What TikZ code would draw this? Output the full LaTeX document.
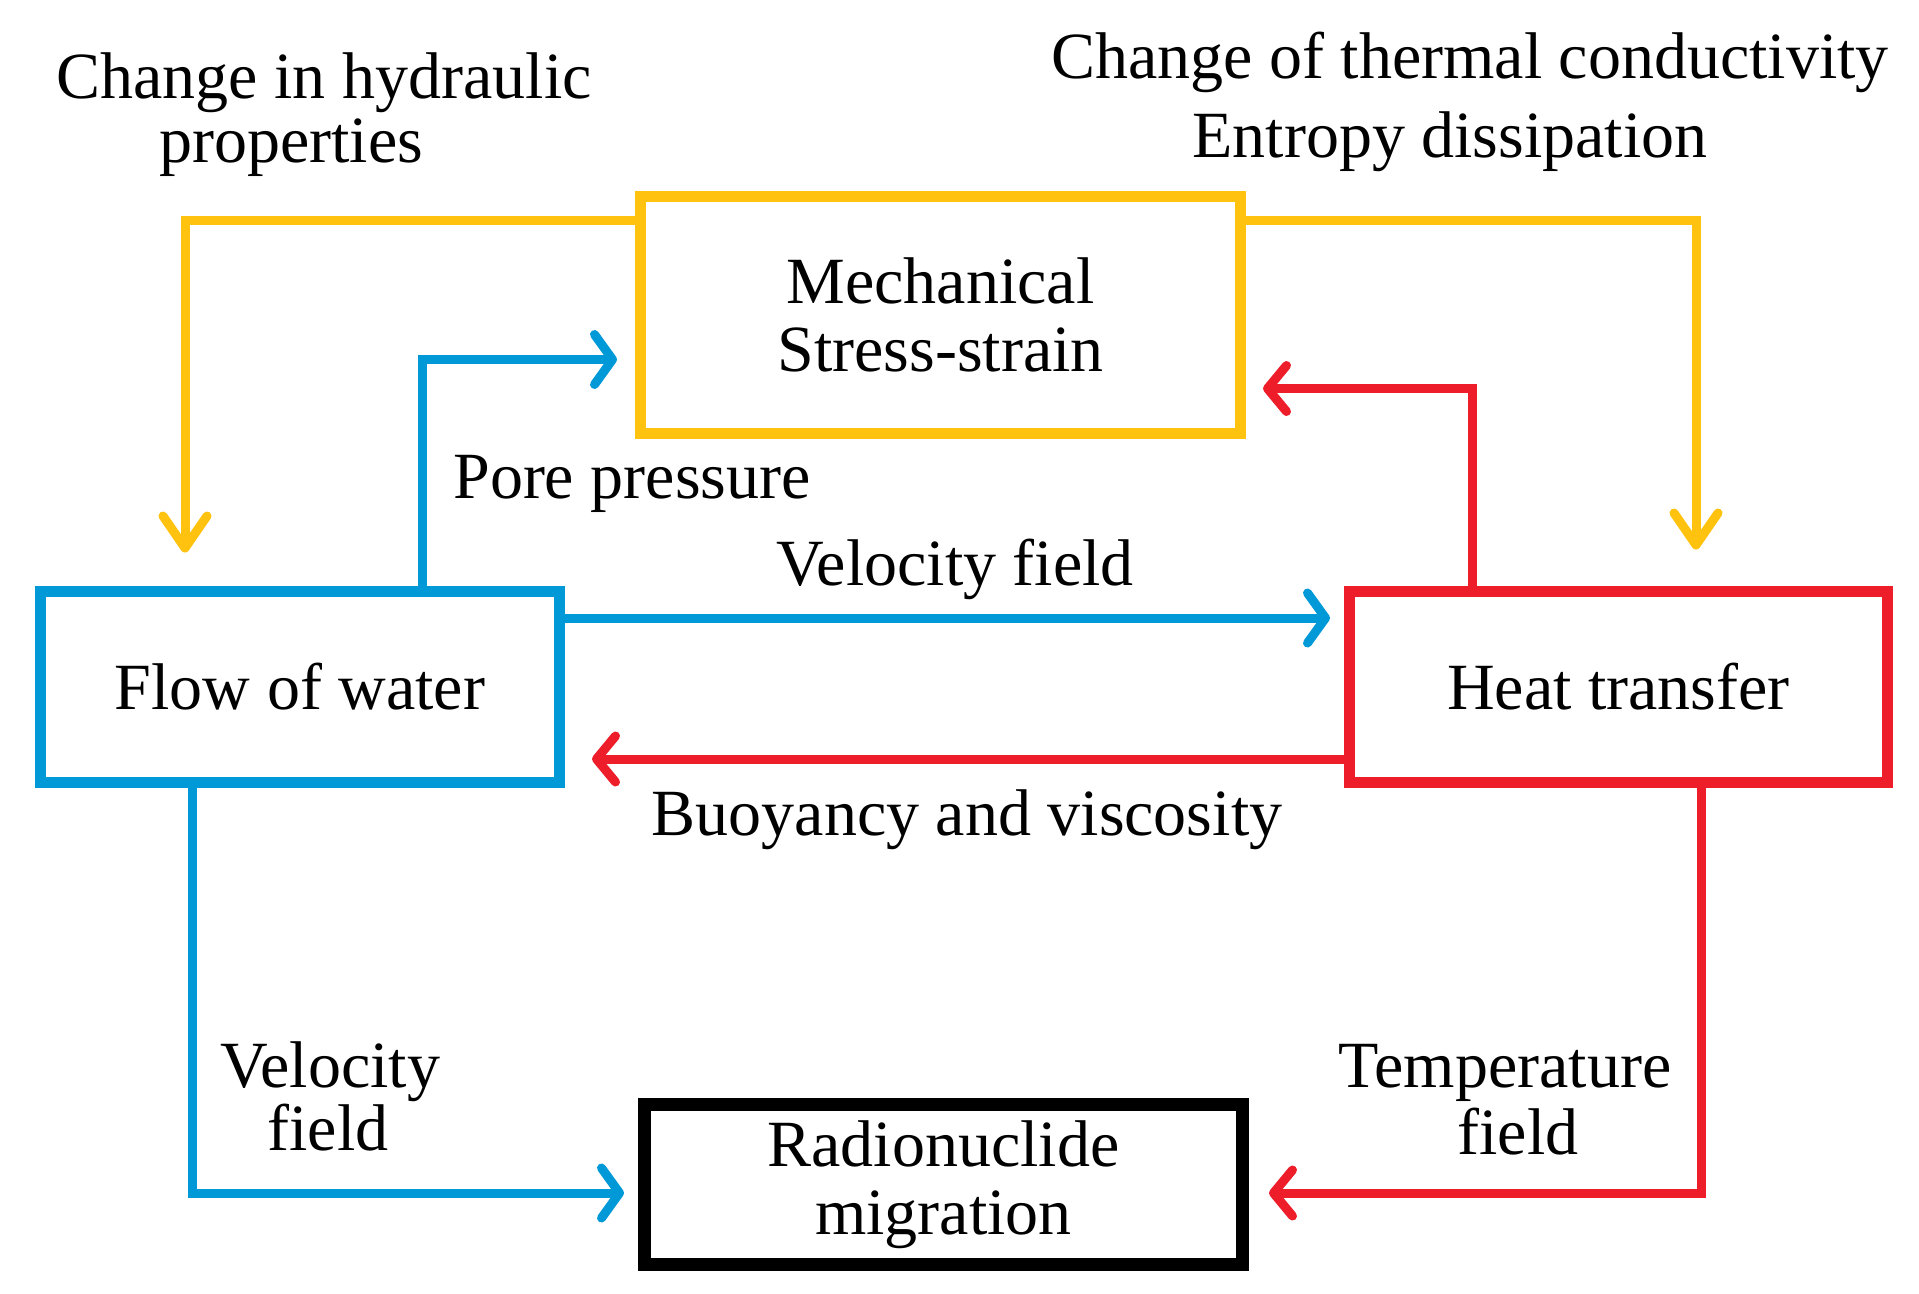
\documentclass[tikz,border=0pt]{standalone}
\usepackage{fontspec}
\setmainfont{Liberation Serif}
\usetikzlibrary{arrows.meta,calc}
\definecolor{cyel}{HTML}{FFC20E}
\definecolor{cblu}{HTML}{0099D8}
\definecolor{cred}{HTML}{EE1D2A}
\begin{document}
\begin{tikzpicture}[x=1pt,y=-1pt,
  box/.style={draw,line width=11pt,inner sep=0pt,align=center,
    font=\fontsize{66}{68}\selectfont},
  lbl/.style={anchor=base,inner sep=0pt,font=\fontsize{66}{68}\selectfont},
  conn/.style={line width=9pt},
  ytip/.style={-{Straight Barb[length=32pt,width=44pt,round]}},
  btip/.style={-{Straight Barb[length=18pt,width=50pt,round]}},
  rtip/.style={-{Straight Barb[length=19pt,width=46pt,round]}}]
\useasboundingbox[fill=white] (0,0) rectangle (1919,1293);

% boxes
\node[box,draw=cyel,minimum width=600pt,minimum height=237pt] (mech) at (940.5,314.5) {Mechanical\\Stress-strain};
\node[box,draw=cblu,minimum width=519pt,minimum height=191pt] (flow) at (300,686.5) {Flow of water};
\node[box,draw=cred,minimum width=538pt,minimum height=191pt] (heat) at (1618.5,686.5) {Heat transfer};
\node[box,draw=black,line width=13pt,minimum width=598pt,minimum height=160pt] (radio) at (943.5,1184.5) {Radionuclide\\migration};

% connectors
\draw[conn,cyel,ytip] (mech.west |- 0,220) -| ($(flow.north west)+(150,-33)$);
\draw[conn,cyel,ytip] (mech.east |- 0,220) -| ($(heat.north west)+(352,-36)$);
\draw[conn,cblu,btip] (flow.north -| 422,0) |- ($(mech.west)+(-18,45)$);
\draw[conn,cred,rtip] (heat.north -| 1472,0) |- ($(mech.east)+(17,74)$);
\draw[conn,cblu,btip,shorten >=14pt] (flow.east |- 0,618) -- (heat.west |- 0,618);
\draw[conn,cred,rtip,shorten >=27pt] (heat.west |- 0,759) -- (flow.east |- 0,759);
\draw[conn,cblu,btip,shorten >=14pt] (flow.south -| 192,0) |- (radio.west |- 0,1193);
\draw[conn,cred,rtip,shorten >=20pt] (heat.south -| 1701,0) |- (radio.east |- 0,1193);

% labels
\node[lbl] (hyd1) at (324,98) {Change in hydraulic};
\node[lbl] (hyd2) at (291,162) {properties};
\node[lbl] (th1) at (1470,78) {Change of thermal conductivity};
\node[lbl] (th2) at (1450,157) {Entropy dissipation};
\node[lbl] (pore) at (632,498) {Pore pressure};
\node[lbl] (vel) at (955,585) {Velocity field};
\node[lbl] (buoy) at (967,835) {Buoyancy and viscosity};
\node[lbl] (vel1) at (330,1087) {Velocity};
\node[lbl] (vel2) at (328,1150) {field};
\node[lbl] (tem1) at (1505,1087) {Temperature};
\node[lbl] (tem2) at (1518,1154) {field};
\end{tikzpicture}
\end{document}
